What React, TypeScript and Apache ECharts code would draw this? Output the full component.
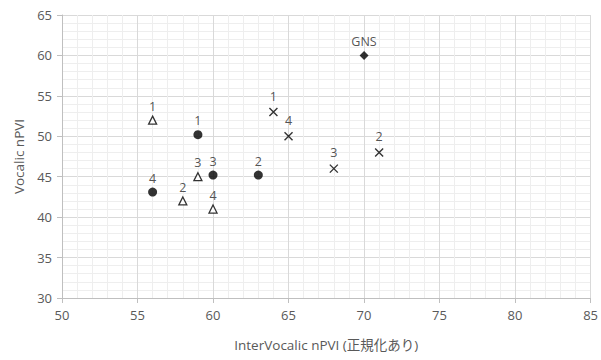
import React, { useEffect, useRef } from "react";
import * as echarts from "echarts";

const dotPoints: [number, number, string][] = [
  [59, 50.2, "1"],
  [63, 45.2, "2"],
  [60, 45.2, "3"],
  [56, 43.1, "4"],
];
const trianglePoints: [number, number, string][] = [
  [56, 52, "1"],
  [58, 42, "2"],
  [59, 45, "3"],
  [60, 41, "4"],
];
const crossPoints: [number, number, string][] = [
  [64, 53, "1"],
  [71, 48, "2"],
  [68, 46, "3"],
  [65, 50, "4"],
];
const gnsPoints: [number, number, string][] = [[70, 60, "GNS"]];

const xName = "InterVocalic nPVI (正規化あり)";
const yName = "Vocalic nPVI";

const FONT = "'Open Sans', 'Noto Sans CJK JP', sans-serif";

export default function App() {
  const ref = useRef<HTMLDivElement>(null);
  useEffect(() => {
    if (!ref.current) return;
    const chart = echarts.init(ref.current, null, { renderer: "svg" });
    const mkLabel = () => ({
      show: true,
      position: "top" as const,
      distance: 3,
      formatter: (p: any) => p.data[2],
      color: "#262626",
      fontSize: 12.5,
      fontFamily: FONT,
    });
    chart.setOption({
      animation: false,
      backgroundColor: "#ffffff",
      grid: { left: 62, right: 8, top: 15, bottom: 62 },
      xAxis: {
        type: "value",
        min: 50,
        max: 85,
        interval: 5,
        name: xName,
        nameLocation: "middle",
        nameGap: 40,
        nameTextStyle: { color: "#595959", fontSize: 13.5, fontFamily: FONT },
        axisLine: { show: true, onZero: false, lineStyle: { color: "#bfbfbf" } },
        axisTick: { show: true, length: 5, lineStyle: { color: "#bfbfbf" } },
        axisLabel: { color: "#595959", fontSize: 13, fontFamily: FONT, margin: 10 },
        splitLine: { show: true, lineStyle: { color: "#d9d9d9" } },
        minorTick: { show: false, splitNumber: 5 },
        minorSplitLine: { show: true, lineStyle: { color: "#eeeeee" } },
      },
      yAxis: {
        type: "value",
        min: 30,
        max: 65,
        interval: 5,
        name: yName,
        nameLocation: "middle",
        nameGap: 36,
        nameTextStyle: { color: "#595959", fontSize: 13.5, fontFamily: FONT },
        axisLine: { show: true, onZero: false, lineStyle: { color: "#bfbfbf" } },
        axisTick: { show: true, length: 5, lineStyle: { color: "#bfbfbf" } },
        axisLabel: { color: "#595959", fontSize: 13, fontFamily: FONT, margin: 10 },
        splitLine: { show: true, lineStyle: { color: "#d9d9d9" } },
        minorTick: { show: false, splitNumber: 5 },
        minorSplitLine: { show: true, lineStyle: { color: "#eeeeee" } },
      },
      series: [
        {
          type: "scatter",
          data: dotPoints,
          symbol: "circle",
          symbolSize: 9,
          itemStyle: { color: "#000000" },
          label: mkLabel(),
        },
        {
          type: "scatter",
          data: trianglePoints,
          symbol: "triangle",
          symbolSize: 8,
          itemStyle: { color: "#ffffff", borderColor: "#000000", borderWidth: 1.3 },
          label: mkLabel(),
        },
        {
          type: "scatter",
          data: crossPoints,
          symbol: "path://M0,0L10,10M10,0L0,10",
          symbolSize: 8,
          itemStyle: { color: "none", borderColor: "#000000", borderWidth: 1.4 },
          label: mkLabel(),
        },
        {
          type: "scatter",
          data: gnsPoints,
          symbol: "diamond",
          symbolSize: 9,
          itemStyle: { color: "#000000" },
          label: mkLabel(),
        },
      ],
    });
    return () => chart.dispose();
  }, []);
  return (
    <div
      ref={ref}
      style={{ position: "absolute", left: 0, top: 0, width: 601, height: 360 }}
    />
  );
}
